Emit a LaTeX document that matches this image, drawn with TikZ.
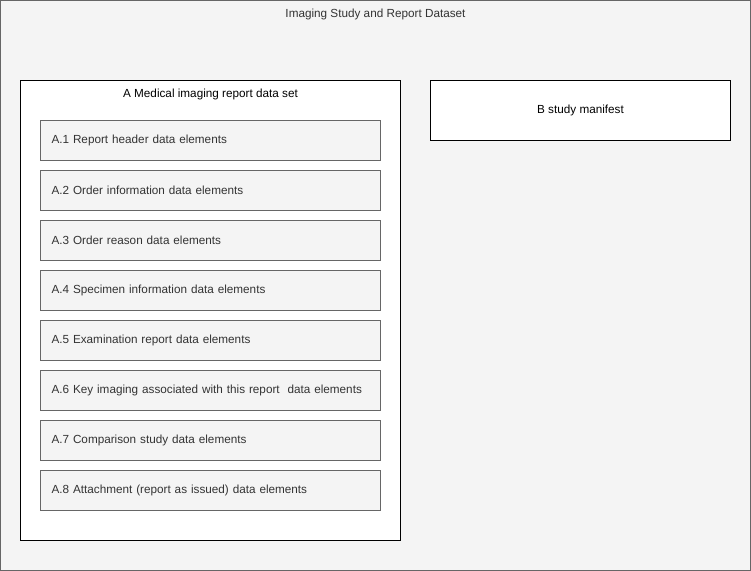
\documentclass[tikz,border=0pt]{standalone}
\usepackage{fontspec}
\setmainfont{Liberation Sans}
\usetikzlibrary{positioning}
\definecolor{panelgray}{HTML}{F4F4F4}
\definecolor{edgegray}{HTML}{666666}
\definecolor{textgray}{HTML}{333333}
\tikzset{
  frame/.style={draw=edgegray, fill=panelgray, line width=0.75pt, minimum width=750*0.75pt, minimum height=570*0.75pt, inner sep=0pt},
  group/.style={draw=black, fill=white, line width=0.75pt, inner sep=0pt},
  element/.style={draw=edgegray, fill=panelgray, line width=0.75pt, minimum height=30pt, text width=238.5pt, inner xsep=8.25pt, inner ysep=0pt, outer sep=0pt, align=left, text=textgray, font=\fontsize{8.8pt}{11pt}\selectfont},
  caption/.style={text=textgray, font=\fontsize{8.8pt}{11pt}\selectfont, inner sep=1pt}
}
\begin{document}
\begin{tikzpicture}[x=0.75pt, y=-0.75pt, node distance=7.5pt]
  \useasboundingbox (0,0) rectangle (751,571);
  \node[frame] (dataset) at (375.5,285.5) {};
  \node[caption] (datasettitle) at (375.5,14) {Imaging Study and Report Dataset};
  \node[group, minimum width=285pt, minimum height=345pt] (reportset) at (210.5,310.5) {};
  \node[caption, text=black] (reporttitle) at (210.5,94) {A Medical imaging report data set};
  \node[group, minimum width=225pt, minimum height=45pt, font=\fontsize{8.8pt}{11pt}\selectfont] (manifest) at (580.5,110.5) {B study manifest};
  \node[element] (a1) at (210.5,140.5) {A.1 Report header data elements};
  \node[element, below=of a1] (a2) {A.2 Order information data elements};
  \node[element, below=of a2] (a3) {A.3 Order reason data elements};
  \node[element, below=of a3] (a4) {A.4 Specimen information data elements};
  \node[element, below=of a4] (a5) {A.5 Examination report data elements};
  \node[element, below=of a5] (a6) {A.6 Key imaging associated with this report\ \ data elements};
  \node[element, below=of a6] (a7) {A.7 Comparison study data elements};
  \node[element, below=of a7] (a8) {A.8 Attachment (report as issued) data elements};
\end{tikzpicture}
\end{document}
